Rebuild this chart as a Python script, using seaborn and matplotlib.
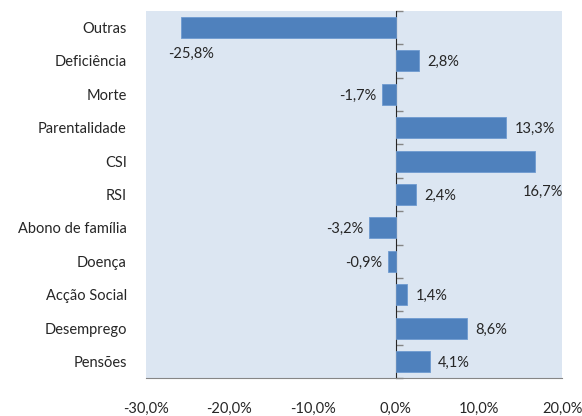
import matplotlib
matplotlib.use('Agg')
import matplotlib.pyplot as plt
import seaborn as sns
import pandas as pd

categories = ['Outras', 'Deficiência', 'Morte', 'Parentalidade', 'CSI', 'RSI',
              'Abono de família', 'Doença', 'Acção Social', 'Desemprego', 'Pensões']
values = [-25.8, 2.8, -1.7, 13.3, 16.7, 2.4, -3.2, -0.9, 1.4, 8.6, 4.1]
x_ticks = [-30, -20, -10, 0, 10, 20]
x_tick_labels = ['-30,0%', '-20,0%', '-10,0%', '0,0%', '10,0%', '20,0%']

df = pd.DataFrame({'cat': categories, 'val': values})

sns.set_style('white')
plt.rcParams['font.family'] = ['Lato', 'DejaVu Sans']

fig = plt.figure(figsize=(5.82, 4.16), dpi=100)
ax = fig.add_axes([0.251, 0.091, 0.715, 0.883])
ax.set_facecolor('#DCE6F2')

sns.barplot(data=df, x='val', y='cat', orient='h', color='#4F81BD',
            saturation=1, width=0.63, edgecolor='#6E9AD0', linewidth=0.6, ax=ax)

ax.set_xlim(-30, 20)
ax.set_ylim(len(categories) - 0.5, -0.5)
ax.set_xticks(x_ticks)
ax.set_xticklabels(x_tick_labels, fontsize=10.5)
ax.tick_params(axis='x', direction='out', length=6, width=1, color='#868686', pad=11)
ax.tick_params(axis='y', length=0, pad=14, labelsize=10.5)
ax.set_xlabel('')
ax.set_ylabel('')
for s in ['top', 'right', 'left']:
    ax.spines[s].set_visible(False)
ax.spines['bottom'].set_color('#868686')

# category axis at zero with tick marks between categories
zero_frac = (0 - (-30)) / 50
sec = ax.secondary_yaxis(zero_frac)
sec.set_yticks([i - 0.5 for i in range(len(categories) + 1)])
sec.set_yticklabels([])
sec.tick_params(axis='y', direction='out', length=5, width=1, color='#868686')
sec.spines['left'].set_color('#868686')

# data labels (Excel moved two of them to avoid overlaps)
for i, v in enumerate(values):
    txt = f'{v:.1f}%'.replace('.', ',')
    if categories[i] == 'Outras':
        ax.annotate(txt, (v, i), xytext=(7, -19), textcoords='offset points',
                    ha='center', va='center', fontsize=10.5)
    elif categories[i] == 'CSI':
        ax.annotate(txt, (v, i), xytext=(6, -22), textcoords='offset points',
                    ha='center', va='center', fontsize=10.5)
    elif v >= 0:
        ax.annotate(txt, (v, i), xytext=(6, -1), textcoords='offset points',
                    ha='left', va='center', fontsize=10.5)
    else:
        ax.annotate(txt, (v, i), xytext=(-4, -1), textcoords='offset points',
                    ha='right', va='center', fontsize=10.5)

fig.savefig('out.png', dpi=100)
